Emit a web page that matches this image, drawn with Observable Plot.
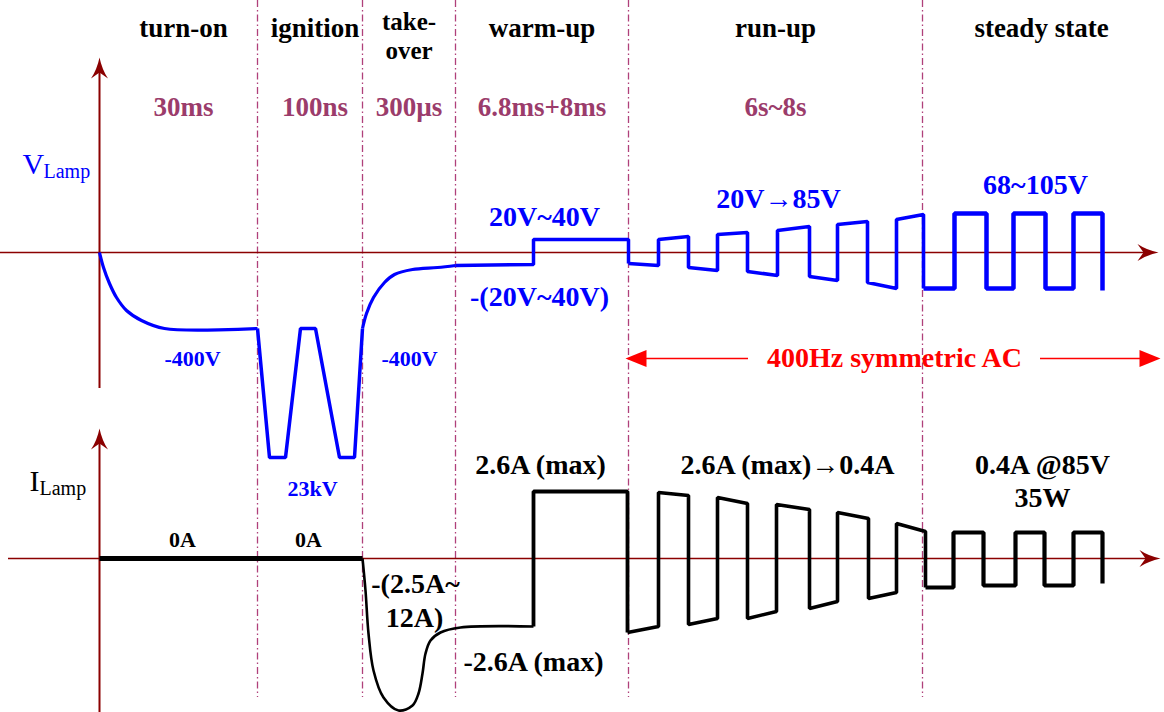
<!DOCTYPE html>
<html><head><meta charset="utf-8">
<script src="https://cdn.jsdelivr.net/npm/d3@7"></script>
<script src="https://cdn.jsdelivr.net/npm/@observablehq/plot@0.6"></script>
<style>html,body{margin:0;padding:0;background:#fff;}</style>
</head><body><div id="chart"></div>
<script>
// ---- DATA (time in schematic units from the origin; levels in schematic units above each zero line) ----
const phaseNames = ["turn-on", "ignition", "take-\nover", "warm-up", "run-up", "steady state"];
const phaseDurations = ["30ms", "100ns", "300µs", "6.8ms+8ms", "6s~8s", ""];
const phaseEdges = [0, 158, 263, 356, 529, 823, 1061];

// Lamp voltage waveform [t, v]
const vTurnOn = [[0,0],[4,-15],[10,-31],[17,-45],[27,-58],[42,-68],[65,-76],[158,-76]];
const vIgnition = [[158,-76],[170,-205],[186,-205],[201,-76],[216,-76],[240,-205],[255,-205],[263,-76]];
const vTakeOver = [[263,-76],[267,-61],[274,-45],[285,-30],[295,-22],[313,-17],[338,-15],[356,-13]];
const vWarmUp = [[356,-13],[434,-12],[434,13],[529,13],[529,-11]];
const vRunUp = [[529,-11],[559,-13],[559,13],[589,16],[589,-15],[618,-18],[618,18],[648,20],[648,-19],[678,-23],[678,22],[710,26],[710,-24],[738,-28],[738,28],[768,31],[768,-30],[797,-36],[797,33],[824,38],[824,-36]];
const vSteady = [[824,-36],[855,-36],[855,39],[887,39],[887,-36],[914,-36],[914,39],[946,39],[946,-36],[974,-36],[974,39],[1003,39],[1003,-38]];

// Lamp current waveform [t, i]
const iOff = [[0,0],[263,0]];
const iTakeOver = [[263,0],[266,-32],[269,-75],[274,-112],[284,-139],[299,-152],[313,-147],[319,-135],[323,-115],[326,-95],[331,-82],[341,-74],[361,-69],[434,-68]];
const iWarmUp = [[434,-68],[434,67],[528,67],[528,-74]];
const iRunUp = [[528,-74],[559,-68],[559,66],[589,63],[589,-66],[618,-60],[618,61],[648,55],[648,-60],[677,-53],[677,54],[710,49],[710,-50],[738,-43],[738,46],[769,40],[769,-40],[797,-34],[797,35],[826,27],[826,-29]];
const iSteady = [[826,-29],[854,-29],[854,26],[884,26],[884,-27],[916,-27],[916,26],[945,26],[945,-27],[974,-27],[974,26],[1003,26],[1003,-25]];

// Annotations [text, t, level]
const vNoteSmall = [["-400V",93,-113],["-400V",310,-113],["23kV",213,-243]];
const vNoteLarge = [["20V~40V",445,27],["-(20V~40V)",440,-53],["20V→85V",679,45],["68~105V",936,59]];
const iNoteSmall = [["0A",83,12],["0A",209,12]];
const iNoteLarge = [["2.6A (max)",441,85],["2.6A (max)→0.4A",688,85],["0.4A @85V",943,85],["35W",943,52],["-(2.5A~",316,-34],["12A)",315,-68],["-2.6A (max)",434,-112]];
const acLabel = "400Hz symmetric AC";
const acLevel = -106;

// ---- LAYOUT ----
const IOFF = -306;            // current zero line relative to voltage zero line
const FONT = "Liberation Serif, Times New Roman, serif";
const axisColor = "#8b0000";
const phases = phaseNames.map((name, k) => ({name, duration: phaseDurations[k], t: (phaseEdges[k] + phaseEdges[k+1]) / 2 + (k < 2 ? 5 : 0)}));
const oneLine = phases.filter(p => !p.name.includes("\n"));
const twoLine = phases.filter(p => p.name.includes("\n"));
const bounds = phaseEdges.slice(1, -1);
const tEnd = phaseEdges[phaseEdges.length - 1];
const acStart = phaseEdges[4], acMid = (acStart + tEnd) / 2, acGap = 146;

const sweptHead = {draw(c) { c.moveTo(0,0); c.quadraticCurveTo(2.5,12,8.5,21); c.lineTo(0,15); c.lineTo(-8.5,21); c.quadraticCurveTo(-2.5,12,0,0); c.closePath(); }};
const triHead = {draw(c) { c.moveTo(0,0); c.lineTo(8.5,21); c.lineTo(-8.5,21); c.closePath(); }};

const X = d => d[0];
const sq = {x: X, strokeLinejoin: "miter", strokeLinecap: "butt"};
const vLine = (data, w, curve = "linear") => Plot.line(data, {...sq, y: d => d[1], stroke: "#0000ff", strokeWidth: w, curve});
const iLine = (data, w, curve = "linear") => Plot.line(data, {...sq, y: d => d[1] + IOFF, stroke: "#000", strokeWidth: w, curve});
const note = (data, off, size, color) => Plot.text(data, {x: d => d[1], y: d => d[2] + off, text: d => d[0], fill: color, fontSize: size, fontWeight: "bold", fontFamily: FONT, lineAnchor: "bottom", textAnchor: "middle"});
const header = {x: "t", text: "name", fill: "#000", fontSize: 27, fontWeight: "bold", fontFamily: FONT, lineAnchor: "bottom"};

const chart = Plot.plot({
  width: 1164, height: 712, margin: 0,
  x: {domain: [-99, 1065], axis: null},
  y: {domain: [-460, 252], axis: null},
  style: {background: "#fff", fontFamily: FONT, overflow: "visible"},
  marks: [
    // phase boundaries
    Plot.ruleX(bounds, {x: d => d, y1: 252, y2: -445, stroke: "#b0407a", strokeWidth: 1.3, strokeDasharray: "7,3,1.5,3"}),
    // axes
    Plot.ruleX([0], {y1: -136, y2: 185, stroke: axisColor, strokeWidth: 2}),
    Plot.ruleX([0], {y1: -460, y2: -186, stroke: axisColor, strokeWidth: 2}),
    Plot.ruleY([0], {x1: -99, x2: tEnd - 10, stroke: axisColor, strokeWidth: 1.6}),
    Plot.ruleY([IOFF], {x1: -91, x2: tEnd - 10, stroke: axisColor, strokeWidth: 1.6}),
    Plot.dot([[0,195,0],[0,-176,0],[tEnd - 2,0,90],[tEnd,IOFF,90]], {x: d => d[0], y: d => d[1], rotate: d => d[2], symbol: sweptHead, r: 5, fill: axisColor, stroke: null}),
    // AC span arrow
    Plot.ruleY([acLevel], {x1: acStart + 10, x2: acMid - acGap, stroke: "#ff0000", strokeWidth: 1.6}),
    Plot.ruleY([acLevel], {x1: acMid + acGap, x2: tEnd - 10, stroke: "#ff0000", strokeWidth: 1.6}),
    Plot.dot([[acStart - 3, acLevel, -90],[tEnd, acLevel, 90]], {x: d => d[0], y: d => d[1], rotate: d => d[2], symbol: triHead, r: 5, fill: "#ff0000", stroke: null}),
    Plot.text([acLabel], {x: acMid, y: acLevel, text: d => d, fill: "#ff0000", fontSize: 28, fontWeight: "bold", fontFamily: FONT, lineAnchor: "middle"}),
    // voltage waveform
    vLine(vTurnOn, 3.2, "catmull-rom"),
    vLine(vIgnition, 3.5),
    vLine(vTakeOver, 3.2, "catmull-rom"),
    vLine(vWarmUp, 3.5),
    vLine(vRunUp, 3.6),
    vLine(vSteady, 4.5),
    // current waveform
    iLine(iOff, 5),
    iLine(iTakeOver, 2.6, "catmull-rom"),
    iLine(iWarmUp, 3.8),
    iLine(iRunUp, 3.6),
    iLine(iSteady, 4.2),
    // phase headers and durations
    Plot.text(oneLine, {...header, y: 216}),
    Plot.text(twoLine, {...header, y: 194, fontSize: 25, lineHeight: 1.15}),
    Plot.text(phases, {x: "t", y: 137, text: "duration", fill: "#9b3c6b", fontSize: 27, fontWeight: "bold", fontFamily: FONT, lineAnchor: "bottom"}),
    // axis titles
    Plot.text(["V"], {x: -77, y: 79, text: d => d, fill: "#0000ff", fontSize: 30, fontFamily: FONT, textAnchor: "start", lineAnchor: "bottom"}),
    Plot.text(["Lamp"], {x: -56, y: 75, text: d => d, fill: "#0000ff", fontSize: 20, fontFamily: FONT, textAnchor: "start", lineAnchor: "bottom"}),
    Plot.text(["I"], {x: -70, y: -238, text: d => d, fill: "#000", fontSize: 30, fontFamily: FONT, textAnchor: "start", lineAnchor: "bottom"}),
    Plot.text(["Lamp"], {x: -60, y: -242, text: d => d, fill: "#000", fontSize: 20, fontFamily: FONT, textAnchor: "start", lineAnchor: "bottom"}),
    // annotations
    note(vNoteSmall, 0, 22, "#0000ff"),
    note(vNoteLarge, 0, 28, "#0000ff"),
    note(iNoteSmall, IOFF, 22, "#000"),
    note(iNoteLarge, IOFF, 28, "#000")
  ]
});
document.getElementById("chart").appendChild(chart);
</script>
</body></html>
